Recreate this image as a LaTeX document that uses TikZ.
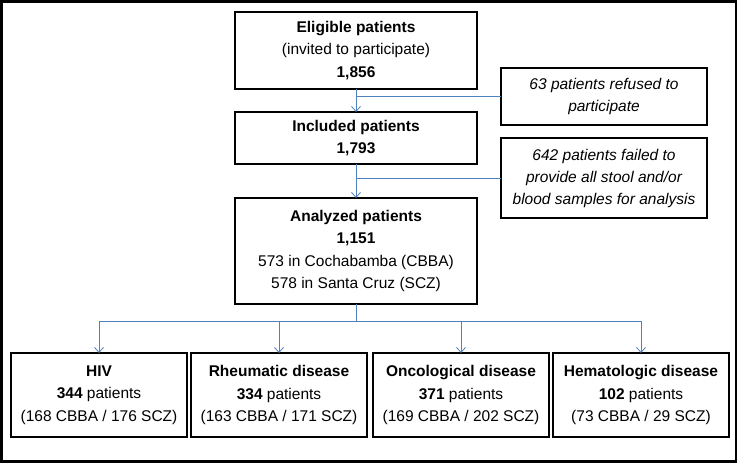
\documentclass[tikz,border=0pt]{standalone}
\usepackage{fontspec}
\setmainfont{Liberation Sans}
\usepackage{tikz}
\usetikzlibrary{arrows.meta,positioning}
\definecolor{linkblue}{RGB}{79,129,189}

\begin{document}
\begin{tikzpicture}[
    x=1pt, y=-1pt,
    every node/.style={font=\fontsize{15.5}{22.5}\selectfont},
    stage/.style={draw, line width=2pt, outer sep=0pt, inner sep=0pt,
                  minimum width=242pt, align=center},
    excl/.style={draw, line width=2pt, outer sep=0pt, inner sep=0pt,
                 minimum width=206pt, align=center,
                 font=\fontsize{15.5}{22}\selectfont\itshape},
    group/.style={draw, line width=2pt, outer sep=0pt, inner sep=0pt,
                  minimum width=176pt, minimum height=84pt, align=center},
    link/.style={linkblue, line width=0.8pt},
    arr/.style={link, -{Straight Barb[length=5pt,width=9pt]}},
]
    \useasboundingbox (0,0) rectangle (738,463);
    \draw[line width=2.2pt] (1.5,1.5) rectangle (736,461.5);

    \node[stage, minimum height=77pt] (elig) at (356,50.5)
        {\textbf{Eligible patients}\\(invited to participate)\\\textbf{1,856}};
    \node[stage, minimum height=52pt, below=23pt of elig] (incl)
        {\textbf{Included patients}\\\textbf{1,793}};
    \node[stage, minimum height=106pt, below=34pt of incl] (anal)
        {\textbf{Analyzed patients}\\\textbf{1,151}\\573 in Cochabamba (CBBA)\\578 in Santa Cruz (SCZ)};

    \node[excl, minimum height=57pt] (refd) at (604,96.5)
        {63 patients refused to\\participate};
    \node[excl, minimum height=80pt] (fail) at (604,178)
        {642 patients failed to\\provide all stool and/or\\blood samples for analysis};

    \node[group] (hiv) at (99,395)
        {\textbf{HIV}\\\textbf{344} patients\\(168 CBBA / 176 SCZ)};
    \node[group, right=4pt of hiv] (rheu)
        {\textbf{Rheumatic disease}\\\textbf{334} patients\\(163 CBBA / 171 SCZ)};
    \node[group, right=6pt of rheu] (onco)
        {\textbf{Oncological disease}\\\textbf{371} patients\\(169 CBBA / 202 SCZ)};
    \node[group, right=4pt of onco] (hema)
        {\textbf{Hematologic disease}\\\textbf{102} patients\\(73 CBBA / 29 SCZ)};

    % main flow with exclusions
    \draw[arr] (elig) -- (incl);
    \draw[link] (refd.west) -- (refd.west -| elig.south);
    \draw[arr] (incl) -- (anal);
    \draw[link] (fail.west) -- (fail.west -| incl.south);

    % split into disease groups
    \draw[link] (anal.south) -- ++(0,-17pt) coordinate (split);
    \draw[link] (hiv.north |- split) -- (hema.north |- split);
    \foreach \g in {hiv,rheu,onco,hema}
        \draw[arr] (\g.north |- split) -- (\g.north);
\end{tikzpicture}
\end{document}
